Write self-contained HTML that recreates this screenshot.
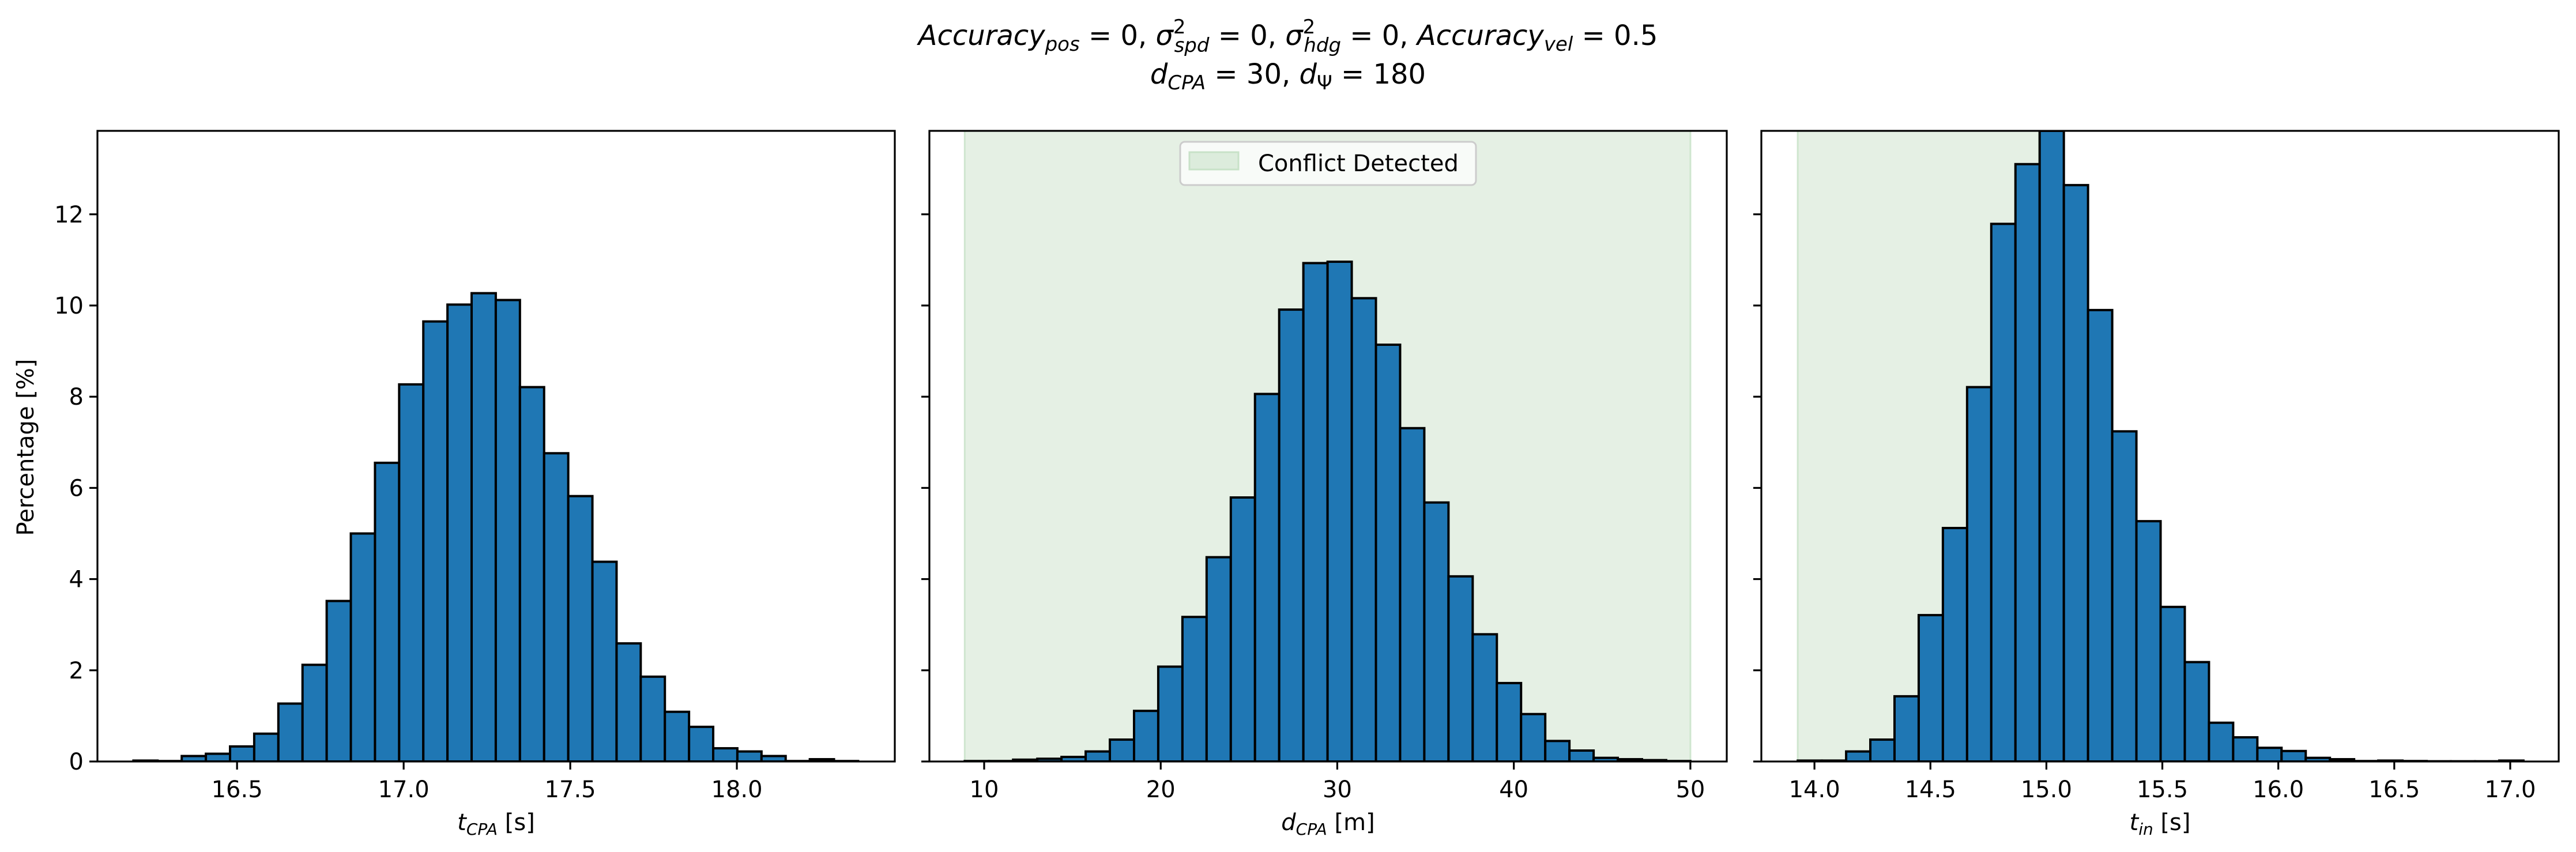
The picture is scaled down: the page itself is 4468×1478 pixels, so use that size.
<!DOCTYPE html>
<html><head><meta charset="utf-8"><style>
html,body{margin:0;padding:0;background:#fff;}
svg{display:block;font-family:"DejaVu Sans","Liberation Sans",sans-serif;}
</style></head><body>
<svg id="fig" width="4468" height="1478" viewBox="0 0 4468 1478" xmlns="http://www.w3.org/2000/svg">
<rect width="4468" height="1478" fill="#fff"/>
<text x="2234" y="78" font-size="48" text-anchor="middle"><tspan font-style="italic">Accuracy</tspan><tspan font-style="italic" font-size="34" dy="10">pos</tspan><tspan dy="-10"> = 0, </tspan><tspan font-style="italic">σ</tspan><tspan font-size="34" dy="-20">2</tspan><tspan font-style="italic" font-size="34" dx="-20" dy="32">spd</tspan><tspan dy="-12"> = 0, </tspan><tspan font-style="italic">σ</tspan><tspan font-size="34" dy="-20">2</tspan><tspan font-style="italic" font-size="34" dx="-20" dy="32">hdg</tspan><tspan dy="-12"> = 0, </tspan><tspan font-style="italic">Accuracy</tspan><tspan font-style="italic" font-size="34" dy="10">vel</tspan><tspan dy="-10"> = 0.5</tspan></text>
<text x="2234" y="145" font-size="48" text-anchor="middle"><tspan font-style="italic">d</tspan><tspan font-style="italic" font-size="34" dy="10">CPA</tspan><tspan dy="-10"> = 30, </tspan><tspan font-style="italic">d</tspan><tspan font-size="34" dy="10">Ψ</tspan><tspan dy="-10"> = 180</tspan></text>
<text x="0" y="0" font-size="40" text-anchor="middle" transform="translate(58,776) rotate(-90)">Percentage [%]</text>
<g id="plots"></g>
</svg>
<script>
const yMax = 13.83;
const yTicks = [0, 2, 4, 6, 8, 10, 12];

const p1Start = 16.189, p1BinWidth = 0.0725;
const p1Values = [0.02,0.01,0.12,0.17,0.33,0.61,1.27,2.12,3.52,5.0,6.55,8.27,9.65,10.02,10.27,10.12,8.21,6.76,5.82,4.38,2.59,1.86,1.09,0.76,0.29,0.22,0.12,0.01,0.05,0.01];
const p1XTicks = [16.5, 17.0, 17.5, 18.0];
const p1XTickLabels = ["16.5","17.0","17.5","18.0"];

const p2Start = 8.9, p2BinWidth = 1.37;
const p2Values = [0.01,0.01,0.04,0.06,0.1,0.22,0.48,1.11,2.08,3.17,4.48,5.79,8.06,9.91,10.93,10.96,10.16,9.14,7.31,5.68,4.06,2.79,1.72,1.04,0.45,0.24,0.08,0.05,0.03,0.01];
const p2XTicks = [10, 20, 30, 40, 50];
const p2XTickLabels = ["10","20","30","40","50"];
const p2Shade = [8.9, 50];

const p3Start = 13.928, p3BinWidth = 0.1043;
const p3Values = [0.02,0.02,0.22,0.48,1.43,3.21,5.12,8.21,11.79,13.1,13.83,12.64,9.9,7.24,5.27,3.39,2.18,0.85,0.53,0.30,0.23,0.08,0.05,0.01,0.02,0.01,0.005,0.005,0.005,0.02];
const p3XTicks = [14.0, 14.5, 15.0, 15.5, 16.0, 16.5, 17.0];
const p3XTickLabels = ["14.0","14.5","15.0","15.5","16.0","16.5","17.0"];
const p3Shade = [13.928, 14.968];

const NS = "http://www.w3.org/2000/svg";
const root = document.getElementById("plots");
function mk(tag, attrs, parent){
  const e = document.createElementNS(NS, tag);
  for (const k in attrs) e.setAttribute(k, attrs[k]);
  (parent||root).appendChild(e); return e;
}
const axTop = 227, axBottom = 1321;
function yScale(v){ return axBottom - (v / yMax) * (axBottom - axTop); }

function panel(idx, left, right, xmin, xmax, start, bw, values, ticks, tickLabels, shade, xlabelParts, showYLabels){
  const xS = v => left + (v - xmin) / (xmax - xmin) * (right - left);
  const g = mk("g", {});
  
  
  const clip = mk("clipPath", {id: "clip" + idx}, g);
  mk("rect", {x: left, y: axTop, width: right - left, height: axBottom - axTop}, clip);
  const inner = mk("g", {"clip-path": "url(#clip" + idx + ")"}, g);
  if (shade) {
    const s = mk("rect", {x: xS(shade[0]), y: axTop, width: xS(shade[1]) - xS(shade[0]), height: axBottom - axTop, fill: "#e5f0e4", stroke: "#cfe6cf", "stroke-width": 3}, inner);
    
    
  }
  values.forEach((v, i) => {
    const x0 = xS(start + i * bw), x1 = xS(start + (i + 1) * bw);
    const r = mk("rect", {x: x0, y: yScale(v), width: x1 - x0, height: axBottom - yScale(v), fill: "#1f77b4", stroke: "#000", "stroke-width": 4}, inner);
    
    
  });
  const frame = mk("rect", {x: left, y: axTop, width: right - left, height: axBottom - axTop, fill: "none", stroke: "#000", "stroke-width": 3.2}, g);
  
  
  yTicks.forEach(t => {
    const y = yScale(t);
    mk("line", {x1: left - 14, x2: left, y1: y, y2: y, stroke: "#000", "stroke-width": 3.2}, g);
    if (showYLabels) {
      const tl = mk("text", {x: left - 24, y: y + 14, "font-size": 40, "text-anchor": "end"}, g);
      tl.textContent = String(t);
      
      
    }
  });
  ticks.forEach((t, i) => {
    const x = xS(t);
    mk("line", {x1: x, x2: x, y1: axBottom, y2: axBottom + 14, stroke: "#000", "stroke-width": 3.2}, g);
    const tl = mk("text", {x: x, y: axBottom + 62, "font-size": 40, "text-anchor": "middle"}, g);
    tl.textContent = tickLabels[i];
    
    
  });
  const xl = mk("text", {x: (left + right) / 2, y: 1440, "font-size": 40, "text-anchor": "middle"}, g);
  
  
  const a = mk("tspan", {"font-style": "italic"}, xl); a.textContent = xlabelParts[0];
  const b = mk("tspan", {"font-style": "italic", "font-size": 28, dy: 8}, xl); b.textContent = xlabelParts[1];
  const c = mk("tspan", {dy: -8}, xl); c.textContent = " " + xlabelParts[2];
  return g;
}

panel(1, 169, 1552, 16.081, 18.474, p1Start, p1BinWidth, p1Values, p1XTicks, p1XTickLabels, null, ["t","CPA","[s]"], true);
panel(2, 1612, 2995, 6.898, 52.06, p2Start, p2BinWidth, p2Values, p2XTicks, p2XTickLabels, p2Shade, ["d","CPA","[m]"], false);
panel(3, 3055, 4438, 13.771, 17.209, p3Start, p3BinWidth, p3Values, p3XTicks, p3XTickLabels, p3Shade, ["t","in","[s]"], false);

const lg = mk("g", {});


mk("rect", {x: 2047, y: 246, width: 513, height: 75, rx: 8, fill: "#f8fbf8", stroke: "#cccccc", "stroke-width": 3}, lg);
const patch = mk("rect", {x: 2063, y: 264, width: 85, height: 30, fill: "#dcecdc", stroke: "#c8e2c8", "stroke-width": 3}, lg);


const lt = mk("text", {x: 2182, y: 297, "font-size": 40}, lg);
lt.textContent = "Conflict Detected";


</script>
</body></html>
